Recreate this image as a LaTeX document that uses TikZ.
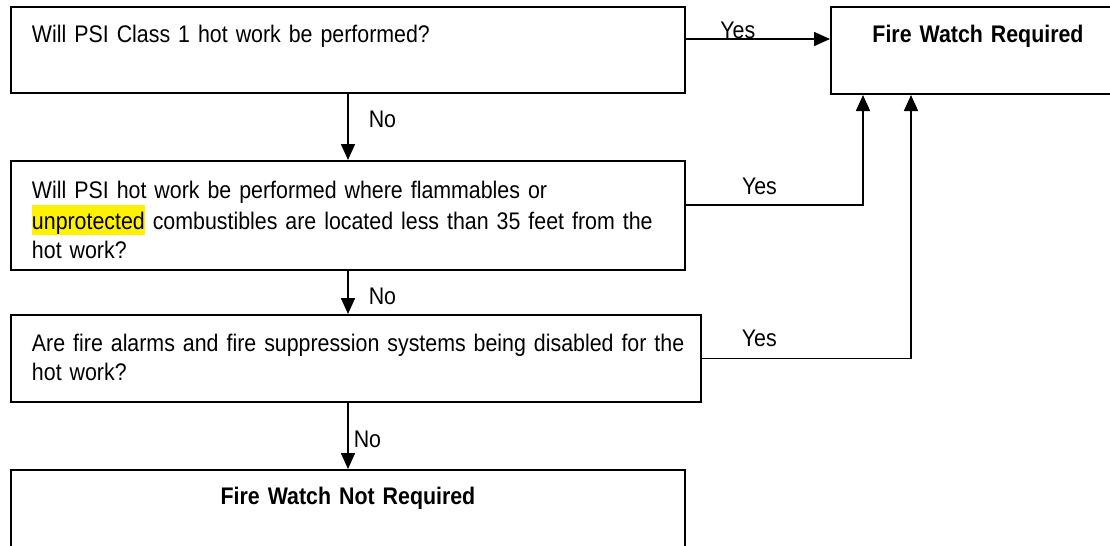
\documentclass[tikz,border=0pt]{standalone}
\usepackage{fontspec}
\setmainfont{Liberation Sans}[FakeStretch=0.89, WordSpace=0.85]
\usetikzlibrary{positioning,arrows.meta}

\newcommand{\qfont}{\fontsize{12pt}{14.5pt}\selectfont}
\newcommand{\marked}[1]{{\setlength{\fboxsep}{0pt}\colorbox{yellow}{\rule[-2.5pt]{0pt}{15pt}#1}}}

\begin{document}
\begin{tikzpicture}[
      x=0.5pt, y=-0.5pt,
      qbox/.style={
        draw,
        line width=1pt,
        inner xsep=10.5pt,
        inner ysep=0pt,
        align=left,
        font=\qfont
      },
      flow/.style={
        line width=0.8pt,
        -{Triangle[length=8pt,width=7pt]}
      },
      lbl/.style={font=\qfont, inner sep=0pt},
      node distance=33pt and 72pt
    ]
    \useasboundingbox (0,0) rectangle (1110,546);
    \clip (0,0) rectangle (1110,546);

    \node[qbox, anchor=north west, text width=316pt, text height=17.5pt, text depth=25.5pt]
      (ClassOne)
      at (10,6)
      {Will PSI Class 1 hot work be performed?};

    \node[qbox, right=of ClassOne.north east, anchor=north west,
          align=center, text width=126pt, text height=17.5pt, text depth=26pt]
      (WatchRequired)
      {\textbf{Fire Watch Required}};

    \node[qbox, below=of ClassOne, text width=316pt, text height=18.5pt, text depth=36pt]
      (Flammables)
      {\mbox{Will PSI hot work be performed where flammables or}\\
      \mbox{\marked{unprotected} combustibles are located less than 35 feet from the}\\
      hot work?};

    \node[qbox, below=21.5pt of Flammables.south west, anchor=north west,
          text width=324pt, text height=18pt, text depth=25.5pt]
      (Alarms)
      {\mbox{Are fire alarms and fire suppression systems being disabled for the}\\
      hot work?};

    \node[qbox, below=of Alarms.south west, anchor=north west,
          align=center, text width=316pt, text height=17pt, text depth=26pt]
      (NotRequired)
      {\textbf{Fire Watch Not Required}};

    \coordinate (ClassOneOut) at ([yshift=5.5pt]ClassOne.east);
    \coordinate (FlammablesOut) at ([yshift=5.25pt]Flammables.east);
    \coordinate (FlammablesIn) at ([xshift=16.5pt]WatchRequired.south west);
    \coordinate (AlarmsIn) at ([xshift=40.5pt]WatchRequired.south west);

    \draw[flow] (ClassOneOut) -- node[lbl, pos=0.36, anchor=base] {Yes}
      (ClassOneOut -| WatchRequired.west);
    \draw[flow] (FlammablesOut) -- node[lbl, pos=0.415, anchor=base, yshift=5.5pt] {Yes}
      (FlammablesOut -| FlammablesIn) -- (FlammablesIn);
    \draw[flow] (Alarms.east) -- node[lbl, pos=0.274, anchor=base, yshift=6pt] {Yes}
      (Alarms.east -| AlarmsIn) -- (AlarmsIn);

    \draw[flow] (ClassOne.south) -- node[lbl, pos=0.39, anchor=west, xshift=10pt] {No}
      (Flammables.north);
    \draw[flow] (Flammables.south) -- node[lbl, pos=0.58, anchor=west, xshift=10pt] {No}
      (Flammables.south |- Alarms.north);
    \draw[flow] (Alarms.south -| NotRequired.north) -- node[lbl, pos=0.55, anchor=west, xshift=2.5pt] {No}
      (NotRequired.north);
  \end{tikzpicture}
\end{document}
